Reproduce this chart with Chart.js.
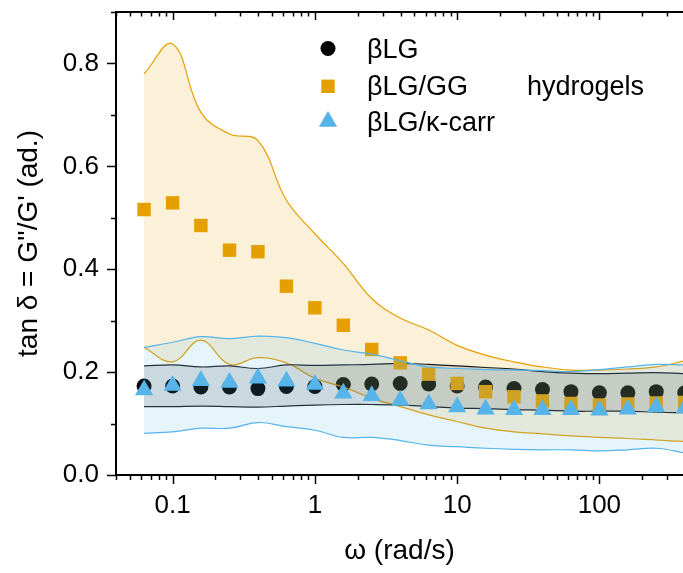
<!DOCTYPE html>
<html>
<head>
<meta charset="utf-8">
<script src="https://cdn.jsdelivr.net/npm/chart.js@4/dist/chart.umd.min.js"></script>
<style>
  html, body { margin: 0; padding: 0; background: #fff; }
  #wrap { width: 683px; height: 573px; }
</style>
</head>
<body>
<div id="wrap"><canvas id="chart" width="683" height="573"></canvas></div>
<script>
// angular frequency (rad/s)
const omega = [0.063, 0.1, 0.158, 0.251, 0.398, 0.631, 1, 1.585, 2.51, 3.98,
               6.31, 10, 15.85, 25.1, 39.8, 63.1, 100, 158.5, 251, 398];

// mean tan delta for each hydrogel
const tanBLG   = [0.173, 0.173, 0.171, 0.171, 0.168, 0.172, 0.172, 0.176, 0.177, 0.178,
                  0.177, 0.173, 0.171, 0.168, 0.166, 0.162, 0.160, 0.160, 0.162, 0.160];
const tanGG    = [0.516, 0.529, 0.485, 0.437, 0.434, 0.367, 0.325, 0.291, 0.244, 0.218,
                  0.196, 0.178, 0.162, 0.152, 0.144, 0.139, 0.136, 0.138, 0.140, 0.141];
const tanCarr  = [0.165, 0.174, 0.183, 0.180, 0.188, 0.182, 0.176, 0.159, 0.154, 0.145,
                  0.138, 0.132, 0.128, 0.127, 0.127, 0.127, 0.126, 0.128, 0.132, 0.130];

// spread bands (upper / lower)
const blgHi  = [0.212, 0.214, 0.210, 0.212, 0.207, 0.214, 0.213, 0.214, 0.215, 0.217,
                0.215, 0.212, 0.209, 0.206, 0.201, 0.198, 0.197, 0.198, 0.199, 0.197];
const blgLo  = [0.133, 0.133, 0.134, 0.133, 0.132, 0.134, 0.136, 0.137, 0.137, 0.136,
                0.133, 0.130, 0.129, 0.127, 0.126, 0.124, 0.124, 0.124, 0.122, 0.121];
const ggHi   = [0.780, 0.838, 0.705, 0.663, 0.650, 0.534, 0.469, 0.411, 0.343, 0.305,
                0.282, 0.252, 0.233, 0.220, 0.210, 0.204, 0.204, 0.206, 0.210, 0.222];
const ggLo   = [0.248, 0.220, 0.262, 0.215, 0.228, 0.218, 0.188, 0.171, 0.149, 0.133,
                0.117, 0.104, 0.091, 0.084, 0.080, 0.076, 0.073, 0.071, 0.068, 0.065];
const carrHi = [0.248, 0.258, 0.269, 0.265, 0.270, 0.267, 0.256, 0.243, 0.235, 0.222,
                0.210, 0.207, 0.205, 0.204, 0.203, 0.201, 0.205, 0.210, 0.215, 0.214];
const carrLo = [0.081, 0.084, 0.091, 0.091, 0.102, 0.094, 0.087, 0.073, 0.073, 0.067,
                0.058, 0.055, 0.052, 0.050, 0.049, 0.049, 0.047, 0.049, 0.052, 0.043];

const seriesNames = ['βLG', 'βLG/GG', 'βLG/κ-carr'];
const legendNote = 'hydrogels';
const yTicks = [0, 0.1, 0.2, 0.3, 0.4, 0.5, 0.6, 0.7, 0.8, 0.9];

const FONT = '"Liberation Sans", Arial, sans-serif';
const C_BLACK = '#000000';
const C_ORANGE = '#E69F00';
const C_BLUE = '#56B4E9';

const pts = arr => arr.map((v, i) => ({ x: omega[i], y: v }));

// markers as they would be drawn by chart.js pointStyle
function marker(ctx, style, x, y, r, color) {
    ctx.fillStyle = color;
    ctx.beginPath();
    if (style === 'circle') {
        ctx.arc(x, y, r, 0, Math.PI * 2);
    } else if (style === 'rect') {
        const s = r * Math.SQRT1_2;
        ctx.rect(x - s, y - s, 2 * s, 2 * s);
    } else {
        ctx.moveTo(x, y - r);
        ctx.lineTo(x + 0.866 * r, y + 0.5 * r);
        ctx.lineTo(x - 0.866 * r, y + 0.5 * r);
        ctx.closePath();
    }
    ctx.fill();
}

// fixed box sizes, no extra room for label overflow
const fixBox = (w, h) => s => {
    if (w != null) s.width = w;
    if (h != null) s.height = h;
    s.paddingLeft = s.paddingRight = s.paddingTop = s.paddingBottom = 0;
};

const tickMarks = {
    id: 'tickMarks',
    afterDraw(chart) {
        const { ctx, chartArea: a, scales } = chart;
        const x = scales.x, y = scales.y;
        ctx.save();
        ctx.strokeStyle = '#000';
        ctx.lineWidth = 1.5;
        ctx.beginPath();
        for (let d = -2; d <= 3; d++) {
            for (let k = 1; k <= 9; k++) {
                const v = k * Math.pow(10, d);
                if (v < x.min || v > x.max) continue;
                const px = Math.round(x.getPixelForValue(v)) + 0.5;
                ctx.moveTo(px, a.bottom);
                ctx.lineTo(px, a.bottom + (k === 1 ? 9 : 5));
                ctx.moveTo(px, a.top);
                ctx.lineTo(px, a.top + (k === 1 ? 8 : 4.5));
            }
        }
        yTicks.forEach((v, i) => {
            const py = Math.round(y.getPixelForValue(v)) + 0.5;
            ctx.moveTo(a.left, py);
            ctx.lineTo(a.left - (i % 2 === 0 ? 9 : 5), py);
        });
        ctx.stroke();
        ctx.restore();
    }
};

const legendBox = {
    id: 'legendBox',
    afterDraw(chart) {
        const ctx = chart.ctx;
        const styles = [['circle', 7.5, C_BLACK], ['rect', 9.5, C_ORANGE], ['triangle', 10.5, C_BLUE]];
        const rows = [48.5, 86.3, 121.5];
        ctx.save();
        ctx.font = '27px ' + FONT;
        ctx.textBaseline = 'alphabetic';
        seriesNames.forEach((name, i) => {
            marker(ctx, styles[i][0], 328, rows[i], styles[i][1], styles[i][2]);
            ctx.fillStyle = '#000';
            ctx.fillText(name, 367, rows[i] + 9);
        });
        ctx.fillText(legendNote, 527, rows[1] + 9);
        ctx.restore();
    }
};

const band = (data, color, fillColor, order, fill) => ({
    data: pts(data),
    borderColor: color,
    borderWidth: 1.2,
    backgroundColor: fillColor,
    fill: fill,
    pointRadius: 0,
    tension: 0.4,
    order: order
});

const markers = (data, style, r, color, order) => ({
    data: pts(data),
    showLine: false,
    pointStyle: style,
    pointRadius: r,
    pointBackgroundColor: color,
    pointBorderWidth: 0,
    order: order
});

const datasets = [
    markers(tanBLG, 'circle', 7.5, C_BLACK, 10),
    band(ggHi, C_ORANGE, 'rgba(230,159,0,0.15)', 9, '+1'),
    band(ggLo, C_ORANGE, 'rgba(0,0,0,0)', 8, false),
    band(blgHi, '#1a1a1a', 'rgba(0,0,0,0.135)', 7, '+1'),
    band(blgLo, '#1a1a1a', 'rgba(0,0,0,0)', 6, false),
    markers(tanGG, 'rect', 9.5, C_ORANGE, 5),
    band(carrHi, C_BLUE, 'rgba(86,180,233,0.15)', 4, '+1'),
    band(carrLo, C_BLUE, 'rgba(0,0,0,0)', 3, false),
    markers(tanCarr, 'triangle', 10.5, C_BLUE, 1)
];

new Chart(document.getElementById('chart'), {
    type: 'line',
    data: { datasets },
    options: {
        responsive: false,
        animation: false,
        events: [],
        layout: { padding: 0, autoPadding: false },
        plugins: { legend: { display: false }, tooltip: { enabled: false } },
        scales: {
            x: {
                type: 'logarithmic',
                position: 'bottom',
                min: 0.04,
                max: 387,
                afterFit: fixBox(null, 98),
                grid: { drawOnChartArea: false, drawTicks: false },
                border: { display: true, color: '#000', width: 2 },
                ticks: {
                    autoSkip: false,
                    maxRotation: 0,
                    padding: 15,
                    color: '#000',
                    font: { family: FONT, size: 26 },
                    callback: v => {
                        const l = Math.log10(v);
                        return Math.abs(l - Math.round(l)) < 1e-6 ? String(v) : '';
                    }
                },
                title: {
                    display: true,
                    text: 'ω (rad/s)',
                    color: '#000',
                    font: { family: FONT, size: 28 },
                    padding: { top: 0, bottom: 5 }
                }
            },
            x2: {
                type: 'logarithmic',
                position: 'top',
                min: 0.04,
                max: 387,
                afterFit: fixBox(null, 12),
                grid: { drawOnChartArea: false, drawTicks: false },
                border: { display: true, color: '#000', width: 2 },
                ticks: { display: false }
            },
            y: {
                min: 0,
                max: 0.9,
                afterFit: fixBox(116, null),
                afterBuildTicks: s => { s.ticks = yTicks.map(v => ({ value: v })); },
                grid: { drawOnChartArea: false, drawTicks: false },
                border: { display: true, color: '#000', width: 2 },
                ticks: {
                    padding: 17,
                    color: '#000',
                    font: { family: FONT, size: 26 },
                    callback: v => (Math.round(v * 10) % 2 === 0 ? v.toFixed(1) : '')
                },
                title: {
                    display: true,
                    text: "tan δ = G''/G' (ad.)",
                    color: '#000',
                    font: { family: FONT, size: 28 },
                    padding: { top: 12, bottom: 0 }
                }
            }
        }
    },
    plugins: [tickMarks, legendBox]
});
</script>
</body>
</html>
